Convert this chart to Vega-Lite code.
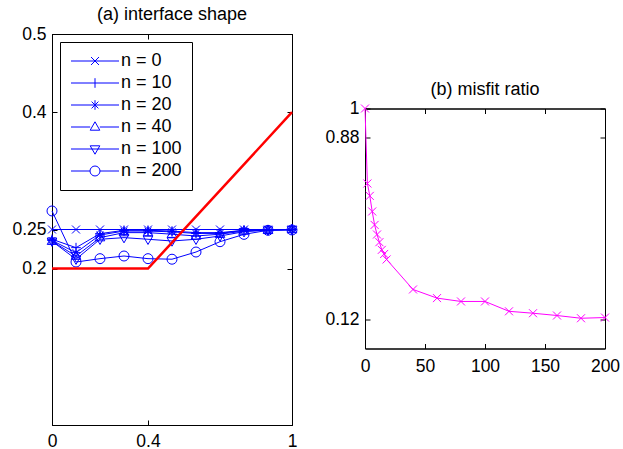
{
  "$schema": "https://vega.github.io/schema/vega-lite/v6.json",
  "padding": {"left": 11, "top": 5, "right": 5, "bottom": 0},
  "background": "white",
  "datasets": {
    "shape": [
      {"x": 0, "y": 0.25, "label": "n = 0"}, {"x": 0.1, "y": 0.25, "label": "n = 0"}, {"x": 0.2, "y": 0.25, "label": "n = 0"}, {"x": 0.3, "y": 0.25, "label": "n = 0"}, {"x": 0.4, "y": 0.25, "label": "n = 0"}, {"x": 0.5, "y": 0.25, "label": "n = 0"}, {"x": 0.6, "y": 0.25, "label": "n = 0"}, {"x": 0.7, "y": 0.25, "label": "n = 0"}, {"x": 0.8, "y": 0.25, "label": "n = 0"}, {"x": 0.9, "y": 0.25, "label": "n = 0"}, {"x": 1, "y": 0.25, "label": "n = 0"},
      {"x": 0, "y": 0.2375, "label": "n = 10"}, {"x": 0.1, "y": 0.2268, "label": "n = 10"}, {"x": 0.2, "y": 0.2447, "label": "n = 10"}, {"x": 0.3, "y": 0.249, "label": "n = 10"}, {"x": 0.4, "y": 0.249, "label": "n = 10"}, {"x": 0.5, "y": 0.248, "label": "n = 10"}, {"x": 0.6, "y": 0.246, "label": "n = 10"}, {"x": 0.7, "y": 0.246, "label": "n = 10"}, {"x": 0.8, "y": 0.249, "label": "n = 10"}, {"x": 0.9, "y": 0.2495, "label": "n = 10"}, {"x": 1, "y": 0.25, "label": "n = 10"},
      {"x": 0, "y": 0.236, "label": "n = 20"}, {"x": 0.1, "y": 0.2204, "label": "n = 20"}, {"x": 0.2, "y": 0.243, "label": "n = 20"}, {"x": 0.3, "y": 0.248, "label": "n = 20"}, {"x": 0.4, "y": 0.248, "label": "n = 20"}, {"x": 0.5, "y": 0.247, "label": "n = 20"}, {"x": 0.6, "y": 0.245, "label": "n = 20"}, {"x": 0.7, "y": 0.245, "label": "n = 20"}, {"x": 0.8, "y": 0.249, "label": "n = 20"}, {"x": 0.9, "y": 0.2495, "label": "n = 20"}, {"x": 1, "y": 0.25, "label": "n = 20"},
      {"x": 0, "y": 0.235, "label": "n = 40"}, {"x": 0.1, "y": 0.216, "label": "n = 40"}, {"x": 0.2, "y": 0.2396, "label": "n = 40"}, {"x": 0.3, "y": 0.246, "label": "n = 40"}, {"x": 0.4, "y": 0.246, "label": "n = 40"}, {"x": 0.5, "y": 0.244, "label": "n = 40"}, {"x": 0.6, "y": 0.2417, "label": "n = 40"}, {"x": 0.7, "y": 0.244, "label": "n = 40"}, {"x": 0.8, "y": 0.248, "label": "n = 40"}, {"x": 0.9, "y": 0.249, "label": "n = 40"}, {"x": 1, "y": 0.25, "label": "n = 40"},
      {"x": 0, "y": 0.235, "label": "n = 100"}, {"x": 0.1, "y": 0.212, "label": "n = 100"}, {"x": 0.2, "y": 0.2375, "label": "n = 100"}, {"x": 0.3, "y": 0.2396, "label": "n = 100"}, {"x": 0.4, "y": 0.2375, "label": "n = 100"}, {"x": 0.5, "y": 0.2353, "label": "n = 100"}, {"x": 0.6, "y": 0.2375, "label": "n = 100"}, {"x": 0.7, "y": 0.2417, "label": "n = 100"}, {"x": 0.8, "y": 0.2472, "label": "n = 100"}, {"x": 0.9, "y": 0.2494, "label": "n = 100"}, {"x": 1, "y": 0.25, "label": "n = 100"},
      {"x": 0, "y": 0.2737, "label": "n = 200"}, {"x": 0.1, "y": 0.2084, "label": "n = 200"}, {"x": 0.2, "y": 0.2127, "label": "n = 200"}, {"x": 0.3, "y": 0.2161, "label": "n = 200"}, {"x": 0.4, "y": 0.2127, "label": "n = 200"}, {"x": 0.5, "y": 0.212, "label": "n = 200"}, {"x": 0.6, "y": 0.2212, "label": "n = 200"}, {"x": 0.7, "y": 0.2344, "label": "n = 200"}, {"x": 0.8, "y": 0.2438, "label": "n = 200"}, {"x": 0.9, "y": 0.249, "label": "n = 200"}, {"x": 1, "y": 0.2494, "label": "n = 200"}
    ],
    "red": [
      {"x": 0, "y": 0.2}, {"x": 0.4, "y": 0.2}, {"x": 1, "y": 0.4}
    ],
    "misfit": [
      {"n": 0, "v": 1.0}, {"n": 2, "v": 0.6875}, {"n": 4, "v": 0.636}, {"n": 6, "v": 0.571}, {"n": 8, "v": 0.515}, {"n": 10, "v": 0.475}, {"n": 12, "v": 0.443}, {"n": 14, "v": 0.411}, {"n": 16, "v": 0.394}, {"n": 18, "v": 0.371}, {"n": 40, "v": 0.246}, {"n": 60, "v": 0.21}, {"n": 80, "v": 0.196}, {"n": 100, "v": 0.196}, {"n": 120, "v": 0.155}, {"n": 140, "v": 0.147}, {"n": 160, "v": 0.1375}, {"n": 180, "v": 0.126}, {"n": 200, "v": 0.129}
    ]
  },
  "hconcat": [
    {
      "width": 240,
      "height": 391,
      "title": "(a) interface shape",
      "layer": [
        {
          "data": {"name": "shape"},
          "mark": {"type": "line", "color": "#0000ff", "strokeWidth": 1},
          "encoding": {
            "x": {"field": "x", "type": "quantitative", "scale": {"domain": [0, 1]}, "axis": null},
            "y": {"field": "y", "type": "quantitative", "scale": {"domain": [0, 0.5]}, "axis": null},
            "detail": {"field": "label", "type": "nominal"}
          }
        },
        {
          "data": {"name": "shape"},
          "mark": {"type": "point", "filled": false, "color": "#0000ff", "strokeWidth": 1, "size": 64, "opacity": 1},
          "encoding": {
            "x": {"field": "x", "type": "quantitative", "axis": null},
            "y": {"field": "y", "type": "quantitative", "axis": null},
            "shape": {
              "field": "label", "type": "nominal",
              "scale": {
                "domain": ["n = 0", "n = 10", "n = 20", "n = 40", "n = 100", "n = 200"],
                "range": [
                  "M-1,-1L1,1M-1,1L1,-1",
                  "M-1.2,0H1.2M0,-1.2V1.2",
                  "M-1.2,0H1.2M0,-1.2V1.2M-0.85,-0.85L0.85,0.85M-0.85,0.85L0.85,-0.85",
                  "M0,-1.3L1.2,0.8L-1.2,0.8Z",
                  "M0,1.3L1.2,-0.8L-1.2,-0.8Z",
                  "M1.25,0A1.25,1.25,0,1,1,-1.25,0A1.25,1.25,0,1,1,1.25,0Z"
                ]
              },
              "legend": null
            }
          }
        },
        {
          "data": {"name": "shape"},
          "transform": [{"filter": "datum.x == 0"}],
          "mark": {"type": "point", "filled": false, "color": "#0000ff", "strokeWidth": 1, "size": 64, "opacity": 0},
          "encoding": {
            "x": {"field": "x", "type": "quantitative", "axis": {"orient": "top", "values": [0, 0.4, 1], "labels": false, "title": null}},
            "y": {"field": "y", "type": "quantitative", "axis": {"orient": "right", "values": [0.2, 0.25, 0.4, 0.5], "labels": false, "title": null}},
            "shape": {
              "field": "label", "type": "nominal",
              "scale": {
                "domain": ["n = 0", "n = 10", "n = 20", "n = 40", "n = 100", "n = 200"],
                "range": [
                  "M-6,0H6M-1,-1L1,1M-1,1L1,-1",
                  "M-6,0H6M0,-1.2V1.2",
                  "M-6,0H6M0,-1.2V1.2M-0.85,-0.85L0.85,0.85M-0.85,0.85L0.85,-0.85",
                  "M-6,0H-1.2M1.2,0H6M0,-1.3L1.2,0.8L-1.2,0.8Z",
                  "M-6,0H6M0,1.3L1.2,-0.8L-1.2,-0.8Z",
                  "M-6,0H-1.25M1.25,0H6M1.25,0A1.25,1.25,0,1,1,-1.25,0A1.25,1.25,0,1,1,1.25,0Z"
                ]
              },
              "legend": {
                "title": null,
                "orient": "top-left",
                "offset": 8,
                "padding": 10,
                "rowPadding": 4,
                "strokeColor": "black",
                "fillColor": "white",
                "labelFontSize": 18,
                "labelFont": "Liberation Sans",
                "labelColor": "black",
                "symbolSize": 64,
                "symbolOpacity": 1,
                "symbolStrokeColor": "#0000ff",
                "symbolFillColor": "transparent",
                "symbolStrokeWidth": 1,
                "symbolOffset": 16,
                "labelOffset": 17
              }
            }
          }
        },
        {
          "data": {"name": "red"},
          "mark": {"type": "line", "color": "#ff0000", "strokeWidth": 2.5},
          "encoding": {
            "x": {"field": "x", "type": "quantitative", "axis": {"values": [0, 0.4, 1], "labelExpr": "'' + datum.value", "title": null, "labelPadding": 12}},
            "y": {"field": "y", "type": "quantitative", "axis": {"values": [0.2, 0.25, 0.4, 0.5], "labelExpr": "'' + datum.value", "title": null, "labelPadding": 11}}
          }
        }
      ],
      "resolve": {"scale": {"shape": "independent"}, "axis": {"x": "independent", "y": "independent"}}
    },
    {
      "width": 240,
      "height": 240,
      "title": "(b) misfit ratio",
      "data": {"name": "misfit"},
      "layer": [
        {
          "mark": {"type": "line", "color": "#ff00ff", "strokeWidth": 1},
          "encoding": {
            "x": {"field": "n", "type": "quantitative", "scale": {"domain": [0, 200]}, "axis": {"values": [0, 50, 100, 150, 200], "labelExpr": "'' + datum.value", "title": null, "labelPadding": 14}},
            "y": {"field": "v", "type": "quantitative", "scale": {"domain": [0, 1]}, "axis": {"values": [0.12, 0.88, 1], "labelExpr": "'' + datum.value", "title": null, "labelPadding": 11}}
          }
        },
        {
          "mark": {"type": "point", "shape": "M-1,-1L1,1M-1,1L1,-1", "filled": false, "color": "#ff00ff", "size": 64, "strokeWidth": 1, "opacity": 1},
          "encoding": {
            "x": {"field": "n", "type": "quantitative", "axis": {"orient": "top", "values": [0, 50, 100, 150, 200], "labels": false, "title": null}},
            "y": {"field": "v", "type": "quantitative", "axis": {"orient": "right", "values": [0.12, 0.88, 1], "labels": false, "title": null}}
          }
        }
      ],
      "resolve": {"axis": {"x": "independent", "y": "independent"}}
    }
  ],
  "spacing": 24,
  "center": true,
  "config": {
    "font": "Liberation Sans",
    "view": {"stroke": "black", "strokeWidth": 1},
    "axis": {
      "grid": false,
      "domainColor": "black",
      "domainWidth": 1,
      "tickColor": "black",
      "tickSize": -5,
      "labelPadding": 8,
      "labelColor": "black",
      "labelFont": "Liberation Sans",
      "labelFontSize": 17.5,
      "labelFlush": false,
      "labelOverlap": false,
      "minExtent": 0
    },
    "title": {"fontSize": 18, "fontWeight": "normal", "color": "black", "font": "Liberation Sans", "offset": 1}
  }
}
